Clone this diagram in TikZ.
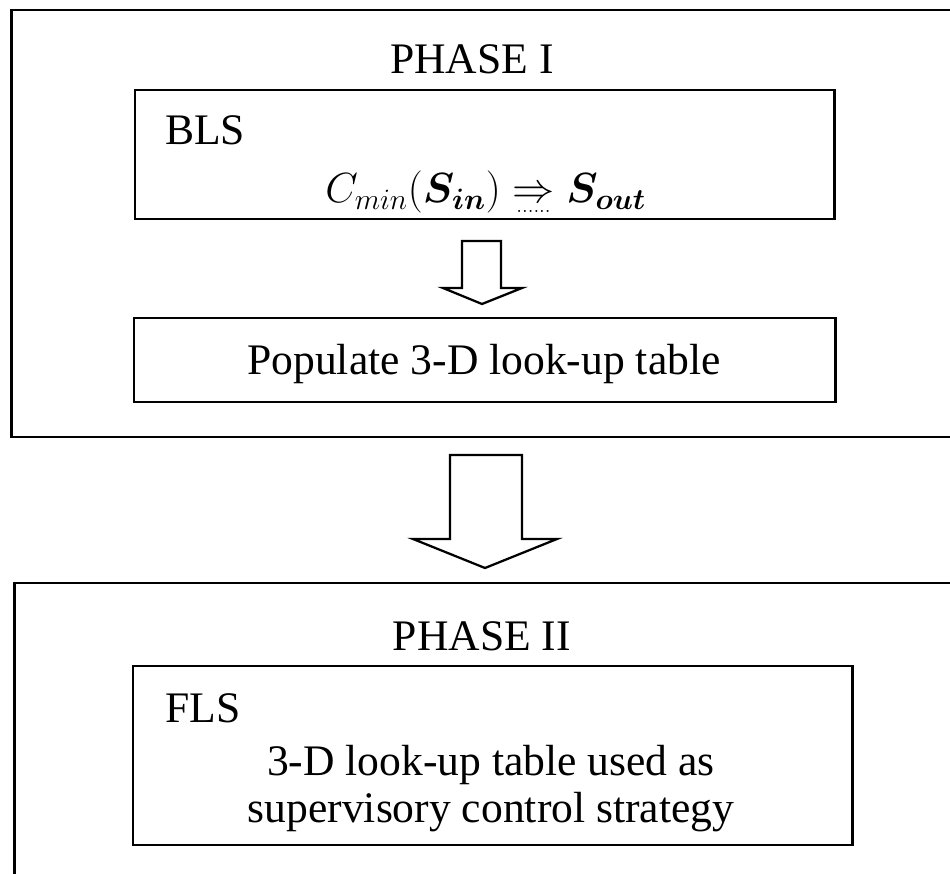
\documentclass[tikz,border=0pt]{standalone}
\usepackage{fix-cm}
\usepackage{amsmath}
\usepackage{bm}
\usepackage{fontspec}
\setmainfont{Liberation Serif}
\usetikzlibrary{positioning}
\newcommand{\dotimplies}{\mathrel{\ooalign{$\Rightarrow$\cr
  \hidewidth\raisebox{-0.5ex}{$\scriptscriptstyle\ldots\ldots$}\hidewidth\cr}}}
\tikzset{%
  % Specifications for style of nodes:
        frame/.style = {rectangle, draw=black, line width=2pt,
                        inner sep=0pt, outer sep=0pt},
         base/.style = {inner sep=0pt, font=\fontsize{31}{33.4}\selectfont},
      heading/.style = {base, anchor=base},
     boxlabel/.style = {base, anchor=base west},
   blockarrow/.style = {draw=black, line width=1.6pt, fill=white,
                        line join=miter},
}

\begin{document}
\begin{tikzpicture}[x=0.025cm, y=-0.025cm]
  \useasboundingbox (0,0) rectangle (950,874);
  \clip (0,0) rectangle (950,874);

  % Specification of boxes (position, size)
  \node (phaseOne) [frame, minimum width=23.95cm, minimum height=10.675cm]
        at (491,223.5) {};
  \node (blsBox)   [frame, minimum width=17.475cm, minimum height=3.225cm]
        at (484.5,154.5) {};
  \node (tableBox) [frame, minimum width=17.525cm, minimum height=2.1cm]
        at (484.5,360) {};
  \node (phaseTwo) [frame, minimum width=23.875cm, minimum height=7.925cm]
        at (492.5,741.5) {};
  \node (flsBox)   [frame, minimum width=17.975cm, minimum height=4.475cm]
        at (492.5,755.5) {};

  % Texts inside the boxes
  \node (phaseOneTitle) [heading] at (472,74) {PHASE I};
  \node (blsName) [boxlabel] at (165,145) {BLS};
  \node (blsRule) [boxlabel, font=\fontsize{30}{36}\selectfont] at (325,203)
        {$C_{min}(\bm{S}_{\bm{in}}) \dotimplies \bm{S}_{\bm{out}}$};
  \node (tableText) [heading] at (484,374) {Populate 3-D look-up table};
  \node (phaseTwoTitle) [heading] at (482,650) {PHASE II};
  \node (flsName) [boxlabel] at (165,722) {FLS};
  \node (flsText) [base, align=center, anchor=base] at (491,822)
        {3-D look-up table used as\\supervisory control strategy};

  % Block arrows between the boxes
  \draw[blockarrow] (462,241) -- (501,241) -- (501,288) -- (522,288)
        -- (482,304) -- (443,288) -- (462,288) -- cycle;
  \draw[blockarrow] (450,455) -- (522,455) -- (522,539) -- (557,539)
        -- (485,568) -- (413,539) -- (450,539) -- cycle;
\end{tikzpicture}
\end{document}
